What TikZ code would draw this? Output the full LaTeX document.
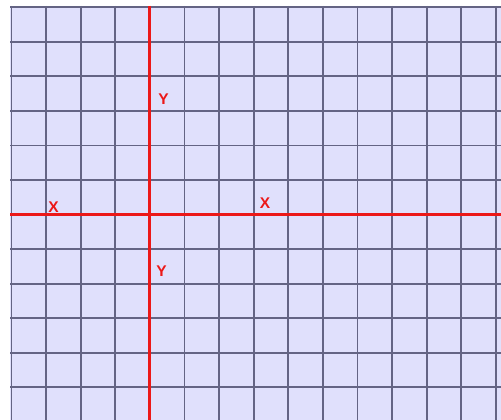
\documentclass[tikz,border=0pt]{standalone}
\usepackage{fontspec}
\setmainfont{Liberation Sans}
\definecolor{bgc}{RGB}{224,224,252}
\definecolor{gridc}{RGB}{100,100,132}
\definecolor{axc}{RGB}{236,24,24}
\tikzset{
  gridline/.style={draw=gridc, line width=1.9pt},
  axisline/.style={draw=axc, line width=3pt},
  axlabel/.style={text=axc, font=\fontsize{15.5}{16}\selectfont\bfseries, inner sep=0pt, anchor=center}
}
\begin{document}
\begin{tikzpicture}[x=1pt,y=1pt]
\useasboundingbox (0,0) rectangle (501,-420);
\fill[white] (0,0) rectangle (501,-420);
\fill[bgc] (10,-6) rectangle (501,-420);
\begin{scope}
\clip (10,-6) rectangle (501,-420);
\foreach \k in {0,...,14} {
  \draw[gridline] ({11.5+34.6*\k},-6) -- ({11.5+34.6*\k},-420);
}
\foreach \k in {0,...,12} {
  \draw[gridline] (10,{-7.3-34.55*\k}) -- (501,{-7.3-34.55*\k});
}
\end{scope}
\coordinate (vt) at (149.9,-6);
\coordinate (vb) at (149.9,-420);
\coordinate (hl) at (10,-214.6);
\coordinate (hr) at (501,-214.6);
\draw[axisline] (vt) -- (vb);
\draw[axisline] (hl) -- (hr);
\node[axlabel] (y1) at (163.5,-99.5) {Y};
\node[axlabel] (y2) at (161.5,-271) {Y};
\node[axlabel] (x1) at (53.5,-207.5) {X};
\node[axlabel] (x2) at (265,-203.5) {X};
\end{tikzpicture}
\end{document}
